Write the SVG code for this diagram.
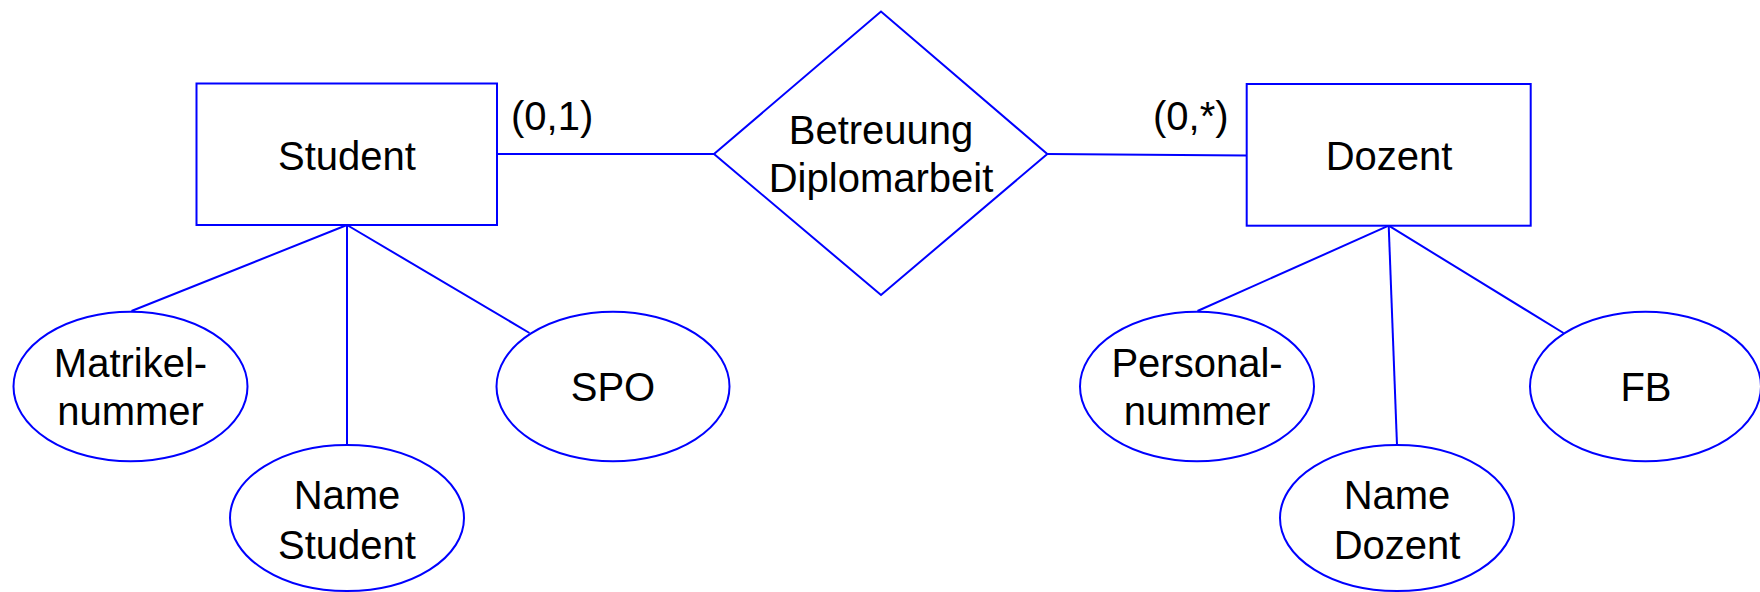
<svg xmlns="http://www.w3.org/2000/svg" width="1760" height="592" viewBox="0 0 1760 592">
<style>
.s{fill:#ffffff;stroke:#0000ff;stroke-width:2}
.c{fill:none;stroke:#0000ff;stroke-width:2}
text{font-family:"Liberation Sans",Arial,sans-serif;font-size:40px;fill:#000000}
.m{text-anchor:middle}
</style>
<rect width="1760" height="592" fill="#ffffff"/>
<g id="connectors">
<line class="c" x1="497" y1="154" x2="714" y2="154"/>
<line class="c" x1="1047.3" y1="154" x2="1246.7" y2="155.5"/>
<line class="c" x1="347" y1="225" x2="131.5" y2="311"/>
<line class="c" x1="347" y1="225" x2="347" y2="445"/>
<line class="c" x1="347" y1="225" x2="529.5" y2="333"/>
<line class="c" x1="1388.7" y1="225.7" x2="1197.5" y2="311"/>
<line class="c" x1="1388.7" y1="225.7" x2="1397" y2="445"/>
<line class="c" x1="1388.7" y1="225.7" x2="1563.5" y2="333"/>
</g>
<g id="label-01"><text x="511" y="130">(0,1)</text></g>
<g id="label-0star"><text x="1153" y="130">(0,*)</text></g>
<g id="student">
<rect class="s" x="196.5" y="83.5" width="300.5" height="141.5"/>
<text class="m" x="347" y="170">Student</text>
</g>
<g id="betreuung">
<polygon class="s" points="714,154 881,11.5 1047.3,154 881,295"/>
<text class="m" x="881" y="144">Betreuung</text>
<text class="m" x="881" y="192">Diplomarbeit</text>
</g>
<g id="dozent">
<rect class="s" x="1246.7" y="84" width="284" height="141.7"/>
<text class="m" x="1389" y="170">Dozent</text>
</g>
<g id="matrikelnummer">
<ellipse class="s" cx="130.5" cy="386.5" rx="117" ry="74.7"/>
<text class="m" x="130.5" y="376.5">Matrikel-</text>
<text class="m" x="130.5" y="425">nummer</text>
</g>
<g id="name-student">
<ellipse class="s" cx="347" cy="518" rx="117" ry="73"/>
<text class="m" x="347" y="509">Name</text>
<text class="m" x="347" y="559">Student</text>
</g>
<g id="spo">
<ellipse class="s" cx="613" cy="386.5" rx="116.5" ry="74.7"/>
<text class="m" x="613" y="401">SPO</text>
</g>
<g id="personalnummer">
<ellipse class="s" cx="1197" cy="386.5" rx="117" ry="74.7"/>
<text class="m" x="1197" y="376.5">Personal-</text>
<text class="m" x="1197" y="425">nummer</text>
</g>
<g id="name-dozent">
<ellipse class="s" cx="1397" cy="518" rx="117" ry="73"/>
<text class="m" x="1397" y="509">Name</text>
<text class="m" x="1397" y="559">Dozent</text>
</g>
<g id="fb">
<ellipse class="s" cx="1645.5" cy="386.5" rx="115.5" ry="74.7"/>
<text class="m" x="1646" y="401">FB</text>
</g>
</svg>
